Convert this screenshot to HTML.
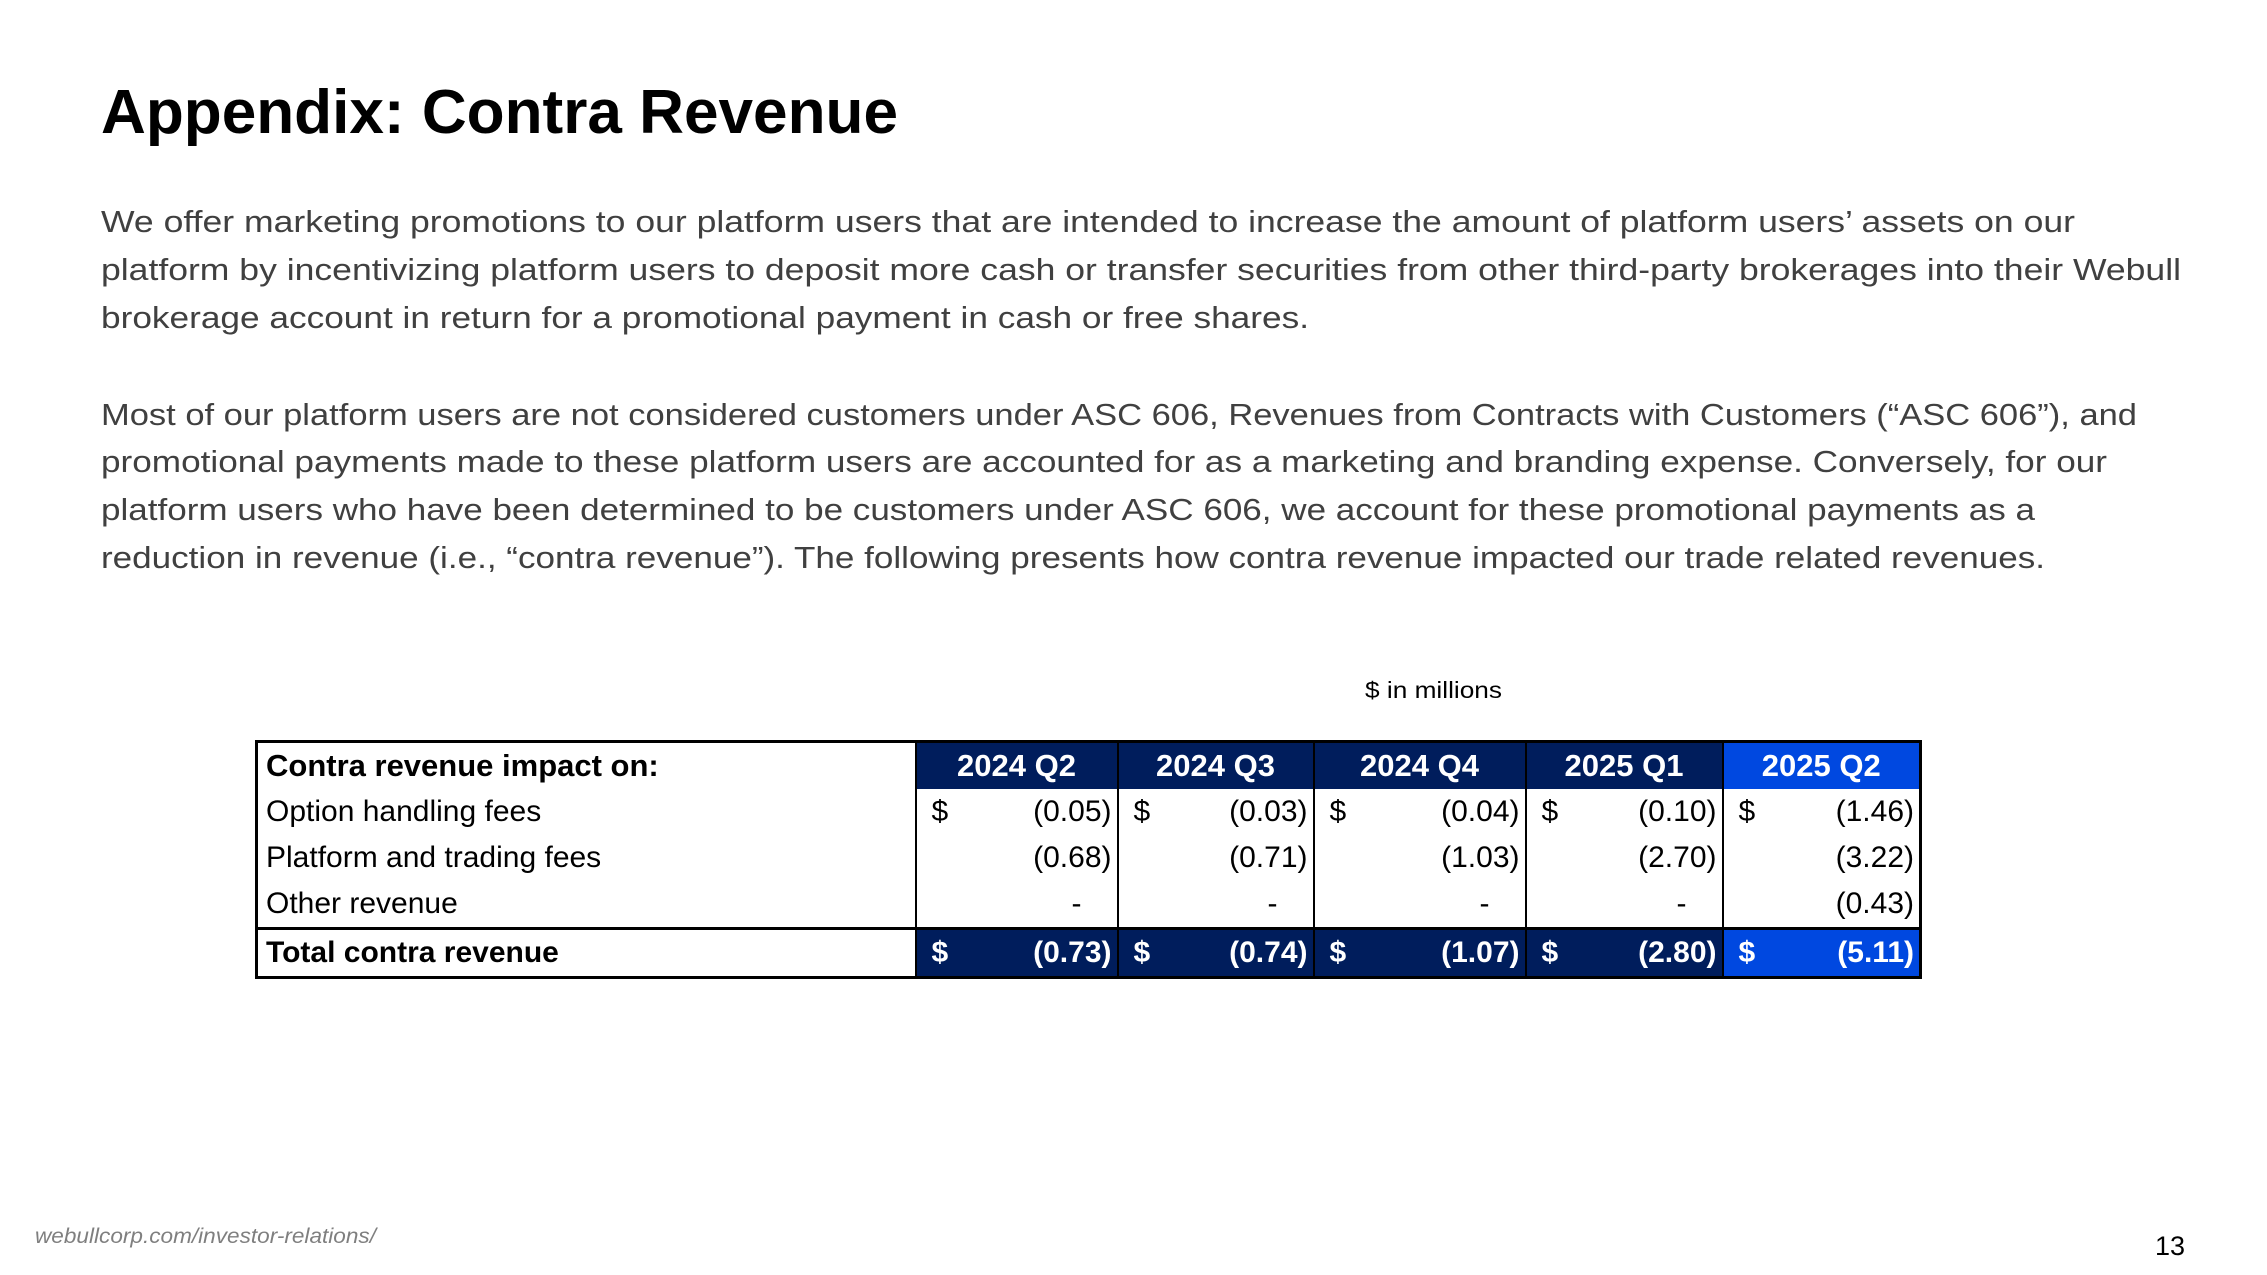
<!DOCTYPE html>
<html><head><meta charset="utf-8"><style>
body{margin:0;width:2267px;height:1275px;background:#fff;position:relative;overflow:hidden;font-family:"Liberation Sans",sans-serif}
.fit{position:absolute;white-space:nowrap;transform-origin:0 0;line-height:1}
.body{color:#404040;font-size:31px}
table{position:absolute;left:255px;top:740px;border-collapse:collapse;font-size:30px}
td{height:46px;padding:0 5px;white-space:nowrap;border-left:2px solid #000;border-right:2px solid #000}
.hd td{background:#001d5c;color:#fff;font-weight:bold;text-align:center;font-size:31px}
.hd td.lab{background:#fff;color:#000;text-align:left}
.hd td.last,.tot td.last{background:#0048e0}
.tot td{background:#001d5c;color:#fff;font-weight:bold;border-top:3px solid #000}
.tot td.lab{background:#fff;color:#000}
.lab{padding-left:8px}
.v{display:flex;justify-content:space-between}
.v span:first-child{margin-left:10px}
</style></head><body>
<div class="fit" data-w="797" style="left:101px;top:82px;font-size:62px;font-weight:bold;color:#000">Appendix: Contra Revenue</div>
<div class="fit body" data-w="1974" style="left:101px;top:206px">We offer marketing promotions to our platform users that are intended to increase the amount of platform users’ assets on our</div>
<div class="fit body" data-w="2080" style="left:101px;top:254px">platform by incentivizing platform users to deposit more cash or transfer securities from other third-party brokerages into their Webull</div>
<div class="fit body" data-w="1208" style="left:101px;top:302px">brokerage account in return for a promotional payment in cash or free shares.</div>
<div class="fit body" data-w="2036" style="left:101px;top:399px">Most of our platform users are not considered customers under ASC 606, Revenues from Contracts with Customers (“ASC 606”), and</div>
<div class="fit body" data-w="2006" style="left:101px;top:446px">promotional payments made to these platform users are accounted for as a marketing and branding expense. Conversely, for our</div>
<div class="fit body" data-w="1934" style="left:101px;top:494px">platform users who have been determined to be customers under ASC 606, we account for these promotional payments as a</div>
<div class="fit body" data-w="1944" style="left:101px;top:542px">reduction in revenue (i.e., “contra revenue”).  The following presents how contra revenue impacted our trade related revenues.</div>
<div class="fit" data-w="137" style="left:1365px;top:679px;font-size:23px;color:#000">$ in millions</div>

<table id="tbl" style="border:3px solid #000">
<colgroup><col style="width:659px"><col style="width:202px"><col style="width:196px"><col style="width:212px"><col style="width:197px"><col style="width:198px"></colgroup>
<tbody id="tb"></tbody></table>

<div class="fit" data-w="341" style="left:35px;top:1226px;font-size:21px;font-style:italic;color:#7f7f7f">webullcorp.com/investor-relations/</div>
<div class="fit" style="left:2155px;top:1233px;font-size:27px;color:#000">13</div>
<script>
const periods=["2024 Q2","2024 Q3","2024 Q4","2025 Q1","2025 Q2"];
const optionFees=["(0.05)","(0.03)","(0.04)","(0.10)","(1.46)"];
const platformFees=["(0.68)","(0.71)","(1.03)","(2.70)","(3.22)"];
const otherRevenue=["-","-","-","-","(0.43)"];
const totals=["(0.73)","(0.74)","(1.07)","(2.80)","(5.11)"];
const tb=document.getElementById('tb');
function row(cls,label,vals,dollar,name){
  const tr=document.createElement('tr');tr.className=cls;
  
  
  const l=document.createElement('td');l.className='lab';l.textContent=label;
  
  
  tr.appendChild(l);
  vals.forEach((v,i)=>{
    const td=document.createElement('td');
    if(i===vals.length-1)td.className='last';
    
    
    if(cls==='hd'){td.textContent=v;}
    else{const d=document.createElement('div');d.className='v';
      const s=document.createElement('span');s.textContent=dollar?'$':'';
      const n=document.createElement('span');n.textContent=v;
      if(v==='-')n.style.marginRight='30px';
      d.appendChild(s);d.appendChild(n);td.appendChild(d);}
    tr.appendChild(td);});
  tb.appendChild(tr);
}
row('hd','Contra revenue impact on:',periods,false,'header-row');
row('','Option handling fees',optionFees,true,'option-handling-fees-row');
row('','Platform and trading fees',platformFees,false,'platform-trading-fees-row');
row('','Other revenue',otherRevenue,false,'other-revenue-row');
row('tot','Total contra revenue',totals,true,'total-row');
document.querySelector('.hd td.lab').style.fontWeight='bold';
document.querySelector('.tot td.lab').style.fontWeight='bold';
document.querySelectorAll('.fit[data-w]').forEach(e=>{
  const w=e.getBoundingClientRect().width,t=+e.dataset.w;
  e.style.transform='scaleX('+(t/w)+')';
});
</script>
</body></html>
